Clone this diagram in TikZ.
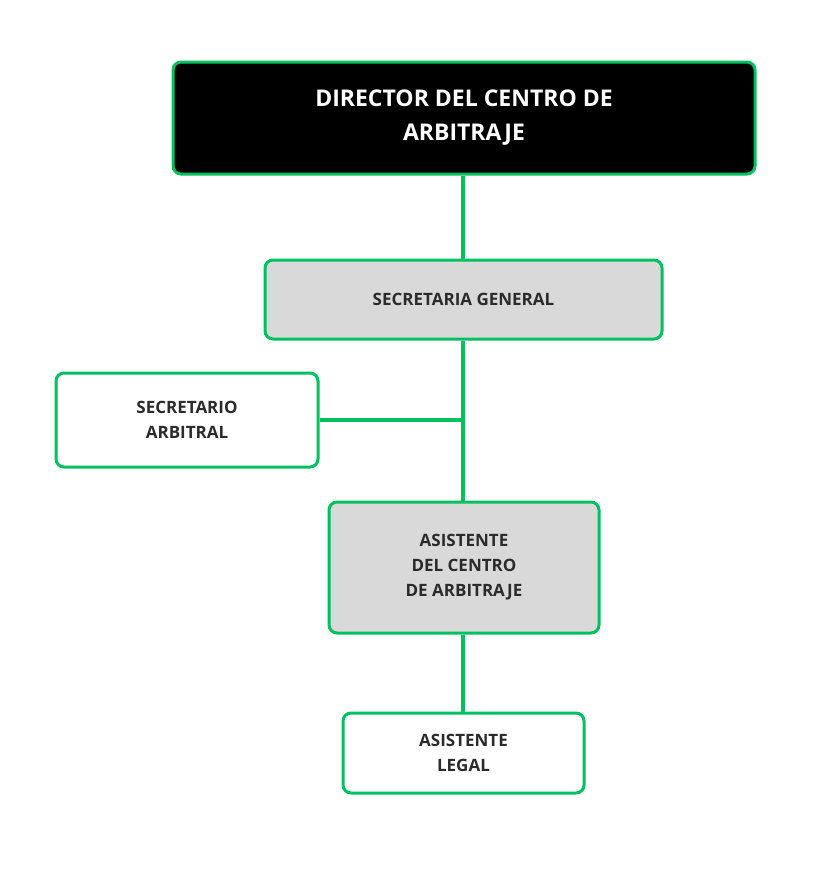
\documentclass[tikz,border=0pt]{standalone}
\usepackage{fontspec}
\setmainfont{Open Sans}
\definecolor{grn}{HTML}{00C060}
\definecolor{gry}{HTML}{D9D9D9}
\definecolor{txt}{HTML}{2B2B2B}
\begin{document}
\begin{tikzpicture}[x=1pt,y=-1pt,
  box/.style={draw=grn,line width=3pt,rounded corners=8pt,inner sep=0pt,align=center,font=\bfseries\fontsize{17}{25}\selectfont,text=txt},
  conn/.style={draw=grn,line width=4pt}]
\useasboundingbox (0,0) rectangle (830,886);
\node[box,fill=black,text=white,minimum width=582pt,minimum height=112pt,font=\bfseries\fontsize{23}{34}\selectfont] (dir) at (464,118) {DIRECTOR DEL CENTRO DE\\ARBITRAJE};
\node[box,fill=gry,minimum width=397pt,minimum height=79pt] (sg) at (463.5,299.5) {SECRETARIA GENERAL};
\node[box,fill=white,minimum width=262pt,minimum height=94pt] (sa) at (187,420) {SECRETARIO\\ARBITRAL};
\node[box,fill=gry,minimum width=270pt,minimum height=131pt] (ac) at (464,567.5) {ASISTENTE\\DEL CENTRO\\DE ARBITRAJE};
\node[box,fill=white,minimum width=241pt,minimum height=80pt] (al) at (463.5,753) {ASISTENTE\\LEGAL};
\coordinate (j) at (463,420);
\draw[conn] (dir.south -| 463,0) -- (sg.north -| 463,0);
\draw[conn] (sg.south -| 463,0) -- (ac.north -| 463,0);
\draw[conn] (sa.east) -- (j);
\draw[conn] (ac.south -| 463,0) -- (al.north -| 463,0);
\end{tikzpicture}
\end{document}
